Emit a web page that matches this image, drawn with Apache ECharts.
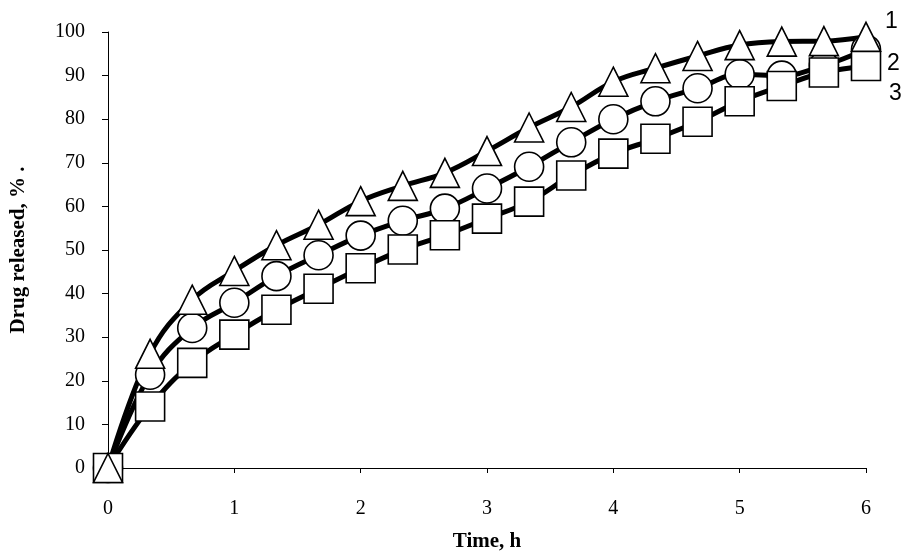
<!DOCTYPE html>
<html>
<head>
<meta charset="utf-8">
<script src="https://cdn.jsdelivr.net/npm/echarts@6/dist/echarts.min.js"></script>
<style>
html,body{margin:0;padding:0;background:#fff;}
#c{width:905px;height:553px;}
</style>
</head>
<body>
<div id="c"></div>
<script>
// Time points (h)
var times = [0, 1/3, 2/3, 1, 4/3, 5/3, 2, 7/3, 8/3, 3, 10/3, 11/3, 4, 13/3, 14/3, 5, 16/3, 17/3, 6];
// Series 1 (triangles)
var series1 = [0, 26.2, 38.6, 45.2, 51.1, 55.8, 61.2, 64.7, 67.7, 72.7, 78.1, 82.8, 88.6, 91.7, 94.5, 97.0, 97.8, 97.9, 98.9];
// Series 2 (circles)
var series2 = [0, 21.4, 32.1, 37.9, 44.0, 48.8, 53.3, 56.7, 59.5, 64.1, 69.1, 74.7, 80.0, 84.1, 87.1, 90.3, 90.0, 92.3, 96.0];
// Series 3 (squares)
var series3 = [0, 14.1, 24.1, 30.6, 36.3, 41.1, 45.8, 50.1, 53.4, 57.2, 61.1, 67.1, 72.1, 75.5, 79.4, 84.1, 87.6, 90.7, 92.2];
var curveLabels = ['1', '2', '3'];
var xTitle = 'Time, h';
var yTitle = 'Drug released, % .';

function pairs(vals){ return times.map(function(t,i){ return [t, vals[i]]; }); }

var serif = '"Liberation Serif", "Times New Roman", serif';
function lineSeries(vals, name){
  return {type:'line', name:name, data:pairs(vals), smooth:0.4, showSymbol:false, symbol:'none',
    color:'#000',
    itemStyle:{color:'#000', opacity:1},
    lineStyle:{color:'#000', width:5, opacity:1},
    emphasis:{disabled:true}, z:1, silent:true};
}
function markSeries(vals, sym, name){
  return {type:'scatter', name:name, data:pairs(vals), symbol:sym, symbolSize:29,
    itemStyle:{color:'#fff', borderColor:'#000', borderWidth:1.6, opacity:1},
    emphasis:{disabled:true}, silent:true};
}
var s2 = markSeries(series2,'circle','m2'); s2.z = 2;
var s3 = markSeries(series3,'rect','m3'); s3.z = 3;
var s1 = markSeries(series1,'triangle','m1'); s1.z = 4;

var chart = echarts.init(document.getElementById('c'), null, {renderer:'canvas'});
chart.setOption({
  animation:false,
  backgroundColor:'#fff',
  color:['#000','#000','#000','#000','#000','#000'],
  grid:{left:108, right:39, top:32, bottom:85, containLabel:false, outerBoundsMode:'none'},
  xAxis:{type:'value', min:0, max:6, interval:1,
    name:xTitle, nameLocation:'middle', nameGap:63,
    nameTextStyle:{fontFamily:serif, fontWeight:'bold', fontSize:21, color:'#000'},
    axisLine:{onZero:false, lineStyle:{color:'#000', width:1}},
    axisTick:{show:true, length:5, lineStyle:{color:'#000'}},
    axisLabel:{fontFamily:serif, fontSize:20, color:'#000', margin:31},
    splitLine:{show:false}},
  yAxis:{type:'value', min:0, max:100, interval:10,
    name:yTitle, nameLocation:'middle', nameGap:79,
    nameTextStyle:{fontFamily:serif, fontWeight:'bold', fontSize:21, color:'#000'},
    axisLine:{show:true, onZero:false, lineStyle:{color:'#000', width:1}},
    axisTick:{show:true, length:6, lineStyle:{color:'#000'}},
    axisLabel:{fontFamily:serif, fontSize:20, color:'#000', margin:23},
    splitLine:{show:false}},
  graphic:[
    {type:'text', left:885, top:10, style:{text:curveLabels[0], font:'23px "Liberation Sans", Arial, sans-serif', fill:'#000'}},
    {type:'text', left:887, top:52, style:{text:curveLabels[1], font:'23px "Liberation Sans", Arial, sans-serif', fill:'#000'}},
    {type:'text', left:889, top:82, style:{text:curveLabels[2], font:'23px "Liberation Sans", Arial, sans-serif', fill:'#000'}}
  ],
  series:[lineSeries(series1,'l1'), lineSeries(series2,'l2'), lineSeries(series3,'l3'), s2, s3, s1]
});
</script>
</body>
</html>
